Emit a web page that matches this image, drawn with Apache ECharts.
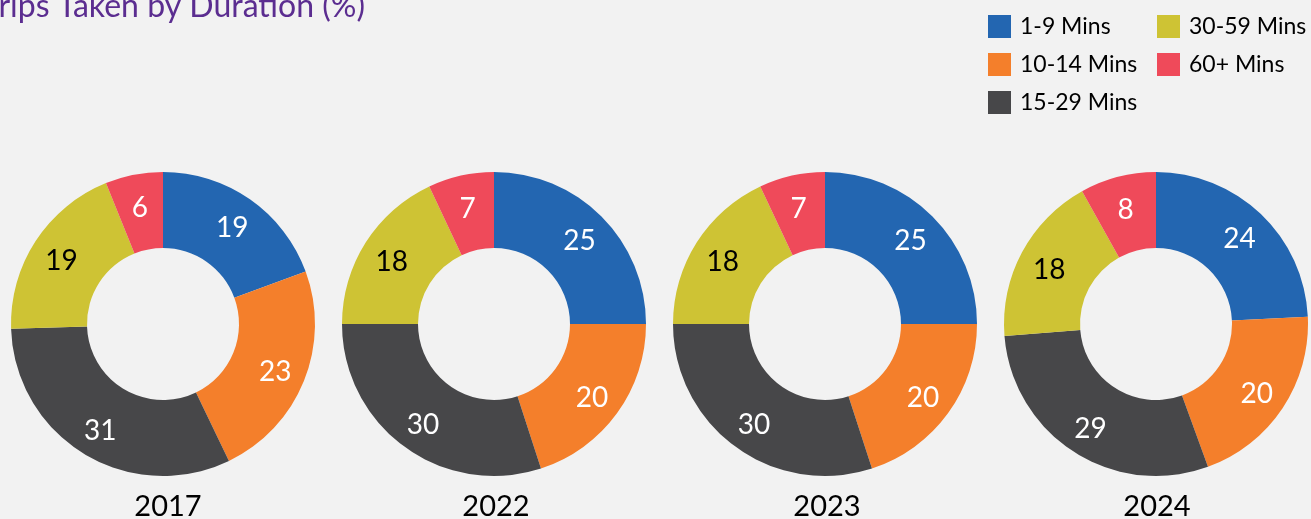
<!DOCTYPE html>
<html>
<head>
<meta charset="utf-8">
<script src="https://cdn.jsdelivr.net/npm/echarts@6/dist/echarts.min.js"></script>
<style>
  html, body { margin: 0; padding: 0; background: #f2f2f2; }
  #main { width: 1311px; height: 519px; }
</style>
</head>
<body>
<div id="main"></div>
<script>
// categories and values
const durations = ["1-9 Mins", "10-14 Mins", "15-29 Mins", "30-59 Mins", "60+ Mins"];
const years = ["2017", "2022", "2023", "2024"];
const share2017 = [19, 23, 31, 19, 6];
const share2022 = [25, 20, 30, 18, 7];
const share2023 = [25, 20, 30, 18, 7];
const share2024 = [24, 20, 29, 18, 8];
const shares = [share2017, share2022, share2023, share2024];

const colors = ["#2366b1", "#f47f2b", "#474749", "#cec334", "#ef4a5a"];
const labelColors = ["#fff", "#fff", "#fff", "#000", "#fff"];
const centersX = [163, 494, 825, 1156];
const yearX = [168, 496, 827, 1157];
const centerY = 324;
const font = "Lato, 'Noto Sans', sans-serif";

let myChart = echarts.init(document.getElementById("main"));

let series = [];
years.forEach(function (y, i) {
  // the rings
  series.push({
    name: y,
    type: "pie",
    center: [centersX[i], centerY],
    radius: [76, 152],
    startAngle: 90,
    silent: true,
    label: { show: false },
    labelLine: { show: false },
    data: durations.map(function (d, k) {
      return { name: d, value: shares[i][k] };
    })
  });
  // same values again, transparent, only there to place the numbers
  series.push({
    name: y + " labels",
    type: "pie",
    center: [centersX[i], centerY],
    radius: [84, 152],
    startAngle: 90,
    silent: true,
    avoidLabelOverlap: false,
    itemStyle: { color: "transparent" },
    label: {
      show: true,
      position: "inside",
      offset: [0, 3],
      fontFamily: font,
      fontSize: 28,
      formatter: "{c}"
    },
    labelLine: { show: false },
    data: durations.map(function (d, k) {
      return {
        name: d,
        value: shares[i][k],
        label: { color: labelColors[k] }
      };
    })
  });
});

let titles = [{
  text: "Trips Taken by Duration (%)",
  left: -17,
  top: -9,
  padding: 0,
  textStyle: { color: "#5b2d90", fontFamily: font, fontSize: 32, fontWeight: "normal" }
}];
years.forEach(function (y, i) {
  titles.push({
    text: y,
    left: yearX[i],
    top: 492,
    padding: 0,
    textAlign: "center",
    textStyle: { color: "#000", fontFamily: font, fontSize: 29, fontWeight: "normal" }
  });
});

const legendBase = {
  orient: "vertical",
  top: 15,
  itemWidth: 23,
  itemHeight: 23,
  itemGap: 15,
  icon: "rect",
  selectedMode: false,
  padding: 0,
  textStyle: { fontFamily: font, fontSize: 23, color: "#000", padding: [0, 0, 0, 4] }
};

myChart.setOption({
  backgroundColor: "#f2f2f2",
  color: colors,
  animation: false,
  title: titles,
  legend: [
    Object.assign({}, legendBase, { left: 988, data: durations.slice(0, 3) }),
    Object.assign({}, legendBase, { left: 1157, data: durations.slice(3) })
  ],
  series: series
});
</script>
</body>
</html>
